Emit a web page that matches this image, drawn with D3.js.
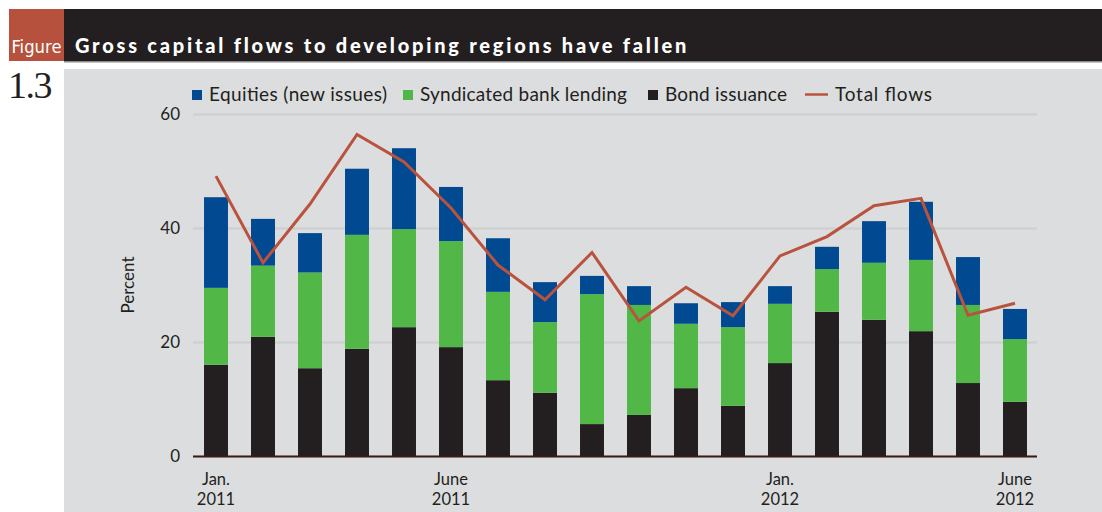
<!DOCTYPE html>
<html>
<head>
<meta charset="utf-8">
<script src="https://cdn.jsdelivr.net/npm/d3@7"></script>
<style>
  html, body { margin: 0; padding: 0; background: #ffffff; }
  svg { display: block; }
</style>
</head>
<body>
<svg id="chart" width="1102" height="512"></svg>
<script>
// Monthly gross capital flows to developing regions, Jan. 2011 – June 2012 (percent)
const months = ["2011-01","2011-02","2011-03","2011-04","2011-05","2011-06",
                "2011-07","2011-08","2011-09","2011-10","2011-11","2011-12",
                "2012-01","2012-02","2012-03","2012-04","2012-05","2012-06"];
const bondIssuance = [16.0, 20.9, 15.4, 18.8, 22.6, 19.1, 13.3, 11.1, 5.6, 7.2, 11.9, 8.8, 16.3, 25.3, 23.9, 21.9, 12.8, 9.5];
const syndicatedLending = [13.5, 12.5, 16.8, 20.0, 17.2, 18.6, 15.5, 12.4, 22.8, 19.3, 11.3, 13.8, 10.4, 7.5, 10.0, 12.5, 13.7, 11.0];
const equities = [15.9, 8.2, 6.9, 11.6, 14.2, 9.5, 9.4, 7.0, 3.2, 3.3, 3.6, 4.4, 3.1, 3.9, 7.3, 10.2, 8.4, 5.3];
const totalFlows = [49.1, 33.9, 44.2, 56.4, 51.6, 43.5, 33.5, 27.4, 35.7, 23.7, 29.6, 24.6, 35.1, 38.5, 43.9, 45.2, 24.7, 26.8];
const yTicks = [0, 20, 40, 60];
const xTickLabels = [["2011-01", "Jan.", "2011"], ["2011-06", "June", "2011"],
                     ["2012-01", "Jan.", "2012"], ["2012-06", "June", "2012"]];
const seriesNames = ["Equities (new issues)", "Syndicated bank lending", "Bond issuance", "Total flows"];

const colors = {
  equities: "#014a91",
  lending: "#51b848",
  bonds: "#231f20",
  total: "#b9533e",
  panel: "#dcdddf",
  grid: "#cfd0d2",
  header: "#231f20",
  figBox: "#b5513c",
  axis: "#3b1a12",
  text: "#231f20"
};
const sans = "Lato, 'Open Sans', sans-serif";

const svg = d3.select("#chart");

// Header band
svg.append("rect").attr("x", 64).attr("y", 9).attr("width", 1038).attr("height", 52).attr("fill", colors.header);
svg.append("rect").attr("x", 64).attr("y", 61).attr("width", 1038).attr("height", 1.5).attr("fill", "#8a8a8a");
svg.append("rect").attr("x", 9).attr("y", 9).attr("width", 55).attr("height", 52).attr("fill", colors.figBox);
svg.append("text")
  .attr("x", 36.5).attr("y", 53)
  .attr("text-anchor", "middle")
  .attr("font-family", "'DejaVu Sans Condensed', 'DejaVu Sans', sans-serif")
  .attr("font-stretch", "condensed")
  .attr("font-size", 17)
  .attr("fill", "#ffffff")
  .attr("textLength", 50).attr("lengthAdjust", "spacingAndGlyphs")
  .text("Figure");
svg.append("text")
  .attr("x", 75).attr("y", 53)
  .attr("font-family", sans)
  .attr("font-weight", 900)
  .attr("font-size", 20)
  .attr("letter-spacing", "1.6px")
  .attr("fill", "#ffffff")
  .attr("textLength", 613).attr("lengthAdjust", "spacing")
  .text("Gross capital flows to developing regions have fallen");
svg.append("text")
  .attr("x", 8).attr("y", 98)
  .attr("font-family", "'Liberation Serif', 'DejaVu Serif', serif")
  .attr("font-size", 38)
  .attr("fill", colors.text)
  .attr("letter-spacing", "-1.5px")
  .text("1.3");

// Chart panel
svg.append("rect").attr("x", 64).attr("y", 69).attr("width", 1038).attr("height", 443).attr("fill", colors.panel);

const x = d3.scaleBand().domain(months).range([192.5, 1038.5]).paddingInner(0.49).paddingOuter(0.245);
const y = d3.scaleLinear().domain([0, 60]).range([456, 114]);

// Gridlines and y axis labels
const yAxis = d3.axisLeft(y).tickValues(yTicks).tickSize(-(1037 - 193)).tickPadding(13);
const gY = svg.append("g").attr("transform", "translate(193,0)").call(yAxis);
gY.select(".domain").remove();
gY.selectAll(".tick line").attr("stroke", colors.grid).attr("stroke-width", 2.5);
gY.selectAll(".tick text")
  .attr("font-family", sans)
  .attr("font-size", 17)
  .attr("fill", colors.text);

svg.append("text")
  .attr("transform", "translate(134,285) rotate(-90)")
  .attr("text-anchor", "middle")
  .attr("font-family", sans)
  .attr("font-size", 17)
  .attr("fill", colors.text)
  .text("Percent");

// Stacked bars
const rows = months.map((m, i) => ({ month: m, bonds: bondIssuance[i], lending: syndicatedLending[i], equities: equities[i] }));
const stack = d3.stack().keys(["bonds", "lending", "equities"]);
const layers = stack(rows);
svg.append("g").selectAll("g")
  .data(layers)
  .join("g")
  .attr("fill", d => colors[d.key])
  .selectAll("rect")
  .data(d => d)
  .join("rect")
  .attr("x", d => x(d.data.month))
  .attr("width", x.bandwidth())
  .attr("y", d => y(d[1]))
  .attr("height", d => y(d[0]) - y(d[1]));

// Baseline
svg.append("line")
  .attr("x1", 193).attr("x2", 1037)
  .attr("y1", y(0) + 0.5).attr("y2", y(0) + 0.5)
  .attr("stroke", colors.axis).attr("stroke-width", 2);

// Total flows line
const line = d3.line()
  .x((d, i) => x(months[i]) + x.bandwidth() / 2)
  .y(d => y(d));
svg.append("path")
  .datum(totalFlows)
  .attr("fill", "none")
  .attr("stroke", colors.total)
  .attr("stroke-width", 3)
  .attr("stroke-linejoin", "miter")
  .attr("d", line);

// X axis labels
const xLabels = svg.append("g")
  .attr("font-family", sans)
  .attr("font-size", 16.5)
  .attr("fill", colors.text)
  .attr("text-anchor", "middle");
xLabels.selectAll("text")
  .data(xTickLabels)
  .join("text")
  .attr("y", 485)
  .each(function (d) {
    const cx = x(d[0]) + x.bandwidth() / 2;
    const t = d3.select(this);
    t.append("tspan").attr("x", cx).attr("dy", 0).text(d[1]);
    t.append("tspan").attr("x", cx).attr("dy", 20).text(d[2]);
  });

// Legend
const legend = svg.append("g")
  .attr("font-family", sans)
  .attr("font-size", 19)
  .attr("fill", colors.text);
const legendItems = [
  { name: seriesNames[0], color: colors.equities, x: 192, type: "box", w: 178 },
  { name: seriesNames[1], color: colors.lending, x: 403, type: "box", w: 207 },
  { name: seriesNames[2], color: colors.bonds, x: 648, type: "box", w: 122 },
  { name: seriesNames[3], color: colors.total, x: 805, type: "line", w: 97 }
];
legendItems.forEach(item => {
  if (item.type === "box") {
    legend.append("rect").attr("x", item.x).attr("y", 90).attr("width", 10).attr("height", 10).attr("fill", item.color);
    legend.append("text").attr("x", item.x + 17).attr("y", 101)
      .attr("textLength", item.w).attr("lengthAdjust", "spacing").text(item.name);
  } else {
    legend.append("line").attr("x1", item.x).attr("x2", item.x + 23).attr("y1", 94.5).attr("y2", 94.5)
      .attr("stroke", item.color).attr("stroke-width", 2.5);
    legend.append("text").attr("x", item.x + 30).attr("y", 101)
      .attr("textLength", item.w).attr("lengthAdjust", "spacing").text(item.name);
  }
});
</script>
</body>
</html>
